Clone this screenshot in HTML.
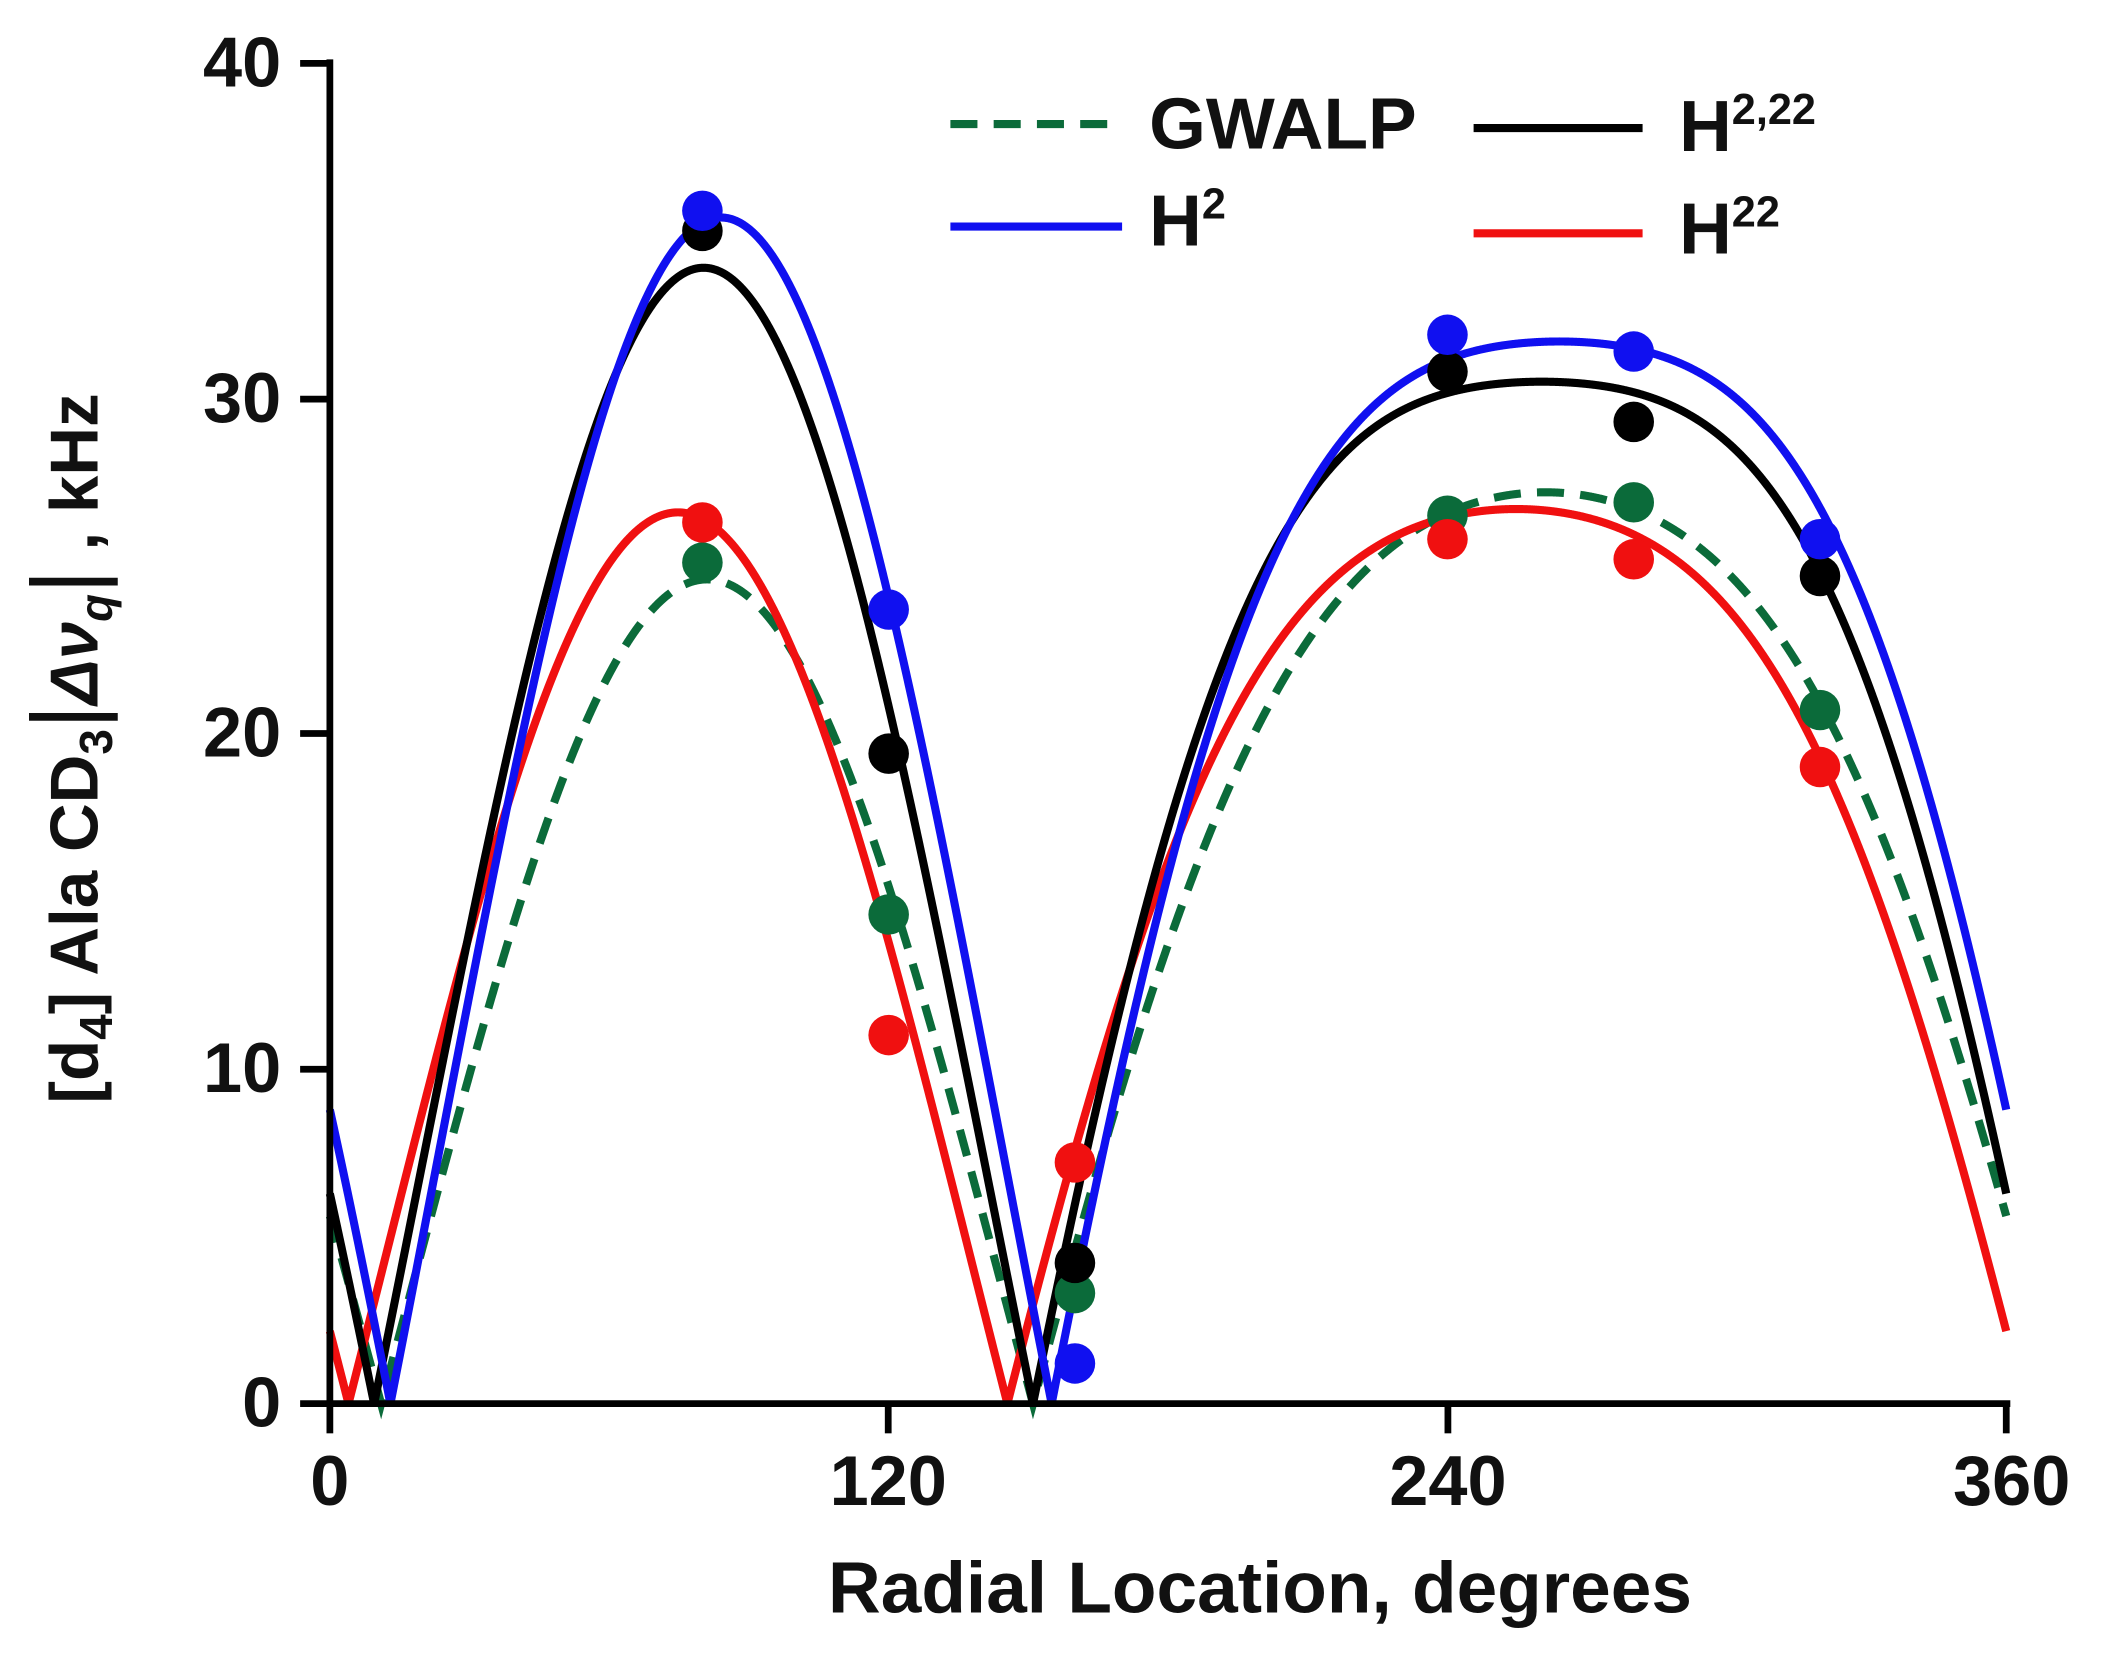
<!DOCTYPE html>
<html><head><meta charset="utf-8"><style>
html,body{margin:0;padding:0;background:#fff;}
svg{display:block;}
text{font-family:"Liberation Sans",sans-serif;font-weight:bold;fill:#111;}
</style></head><body>
<svg id="s" width="2109" height="1672" viewBox="0 0 1560 1240" preserveAspectRatio="none" xmlns="http://www.w3.org/2000/svg">
<g id="curves"></g>
<g stroke="#000" stroke-width="5" fill="none">
<line x1="244" y1="44" x2="244" y2="1043"/>
<line x1="242" y1="1041" x2="1487" y2="1041"/>
<line x1="222" y1="47" x2="244" y2="47"/>
<line x1="222" y1="296" x2="244" y2="296"/>
<line x1="222" y1="544" x2="244" y2="544"/>
<line x1="222" y1="793" x2="244" y2="793"/>
<line x1="222" y1="1041" x2="244" y2="1041"/>
<line x1="244" y1="1041" x2="244" y2="1063"/>
<line x1="657" y1="1041" x2="657" y2="1063"/>
<line x1="1071" y1="1041" x2="1071" y2="1063"/>
<line x1="1484" y1="1041" x2="1484" y2="1063"/>
</g>
<g font-size="52" text-anchor="end">
<text x="208" y="64">40</text>
<text x="208" y="313">30</text>
<text x="208" y="561">20</text>
<text x="208" y="810">10</text>
<text x="208" y="1058">0</text>
</g>
<g font-size="52" text-anchor="middle">
<text x="244" y="1116">0</text>
<text x="657" y="1116">120</text>
<text x="1071" y="1116">240</text>
<text x="1488" y="1116">360</text>
</g>
<text x="932" y="1196" font-size="54" text-anchor="middle">Radial Location, degrees</text>
<g transform="translate(72,555) rotate(-90)">
<text x="0" y="0" font-size="50" text-anchor="middle">[d<tspan font-size="34" dy="11">4</tspan><tspan dy="-11">] Ala CD</tspan><tspan font-size="34" dy="11">3</tspan><tspan dy="-11" font-size="70" font-weight="normal">|</tspan><tspan font-style="italic">Δν</tspan><tspan font-size="34" dy="11" font-style="italic">q</tspan><tspan dy="-11" font-size="70" font-weight="normal">|</tspan><tspan> , kHz</tspan></text>
</g>
<g stroke-width="6" fill="none">
<line x1="703" y1="92" x2="830" y2="92" stroke="#0b6b3a" stroke-dasharray="20,12"/>
<line x1="703" y1="168" x2="830" y2="168" stroke="#1010f0"/>
<line x1="1090" y1="95" x2="1215" y2="95" stroke="#000"/>
<line x1="1090" y1="173" x2="1215" y2="173" stroke="#f01010"/>
</g>
<text x="850" y="110" font-size="54">GWALP</text>
<text x="850" y="182" font-size="54">H<tspan font-size="32" dy="-20">2</tspan></text>
<text x="1242" y="112" font-size="54">H<tspan font-size="32" dy="-20">2,22</tspan></text>
<text x="1242" y="188" font-size="54">H<tspan font-size="32" dy="-20">22</tspan></text>
<g id="dots"></g>
</svg>
<script>
var NS="http://www.w3.org/2000/svg";
function X(d){return 244+d/360*1240;}
function Y(v){return 1041-v*994/40;}
var s=1/Math.sqrt(3);
function model(z1,z2,P1,P2){
 var m=(z1+z2)/2,d=(z2-z1)/2*Math.PI/180,k=Math.cos(d);
 function U(v){return (s-v*(1+k)/2)/((1-k)/2);}
 function r(v){var u=U(v);return (3*v*v-1)/(1-3*u*u);}
 var lo=s+1e-6,hi=1.5,t=P1/P2;
 for(var i=0;i<80;i++){var mid=(lo+hi)/2;var rr=r(mid);if(rr<t&&rr>0)lo=mid;else hi=mid;}
 var v=lo,u=U(v),A=(v+u)/2,B=(v-u)/2,K=2*P1/(3*v*v-1);
 return function(deg){var c=A+B*Math.cos((deg-m)*Math.PI/180);return Math.abs(K*(3*c*c-1)/2);};
}
var series=[
 {c:"#0b6b3a",p:[11,151,24.6,27.2],dash:"20,12",pts:[25.1,14.6,3.3,26.5,26.9,20.7]},
 {c:"#f01010",p:[4,145.5,26.6,26.7],pts:[26.3,11,7.2,25.8,25.2,19]},
 {c:"#000000",p:[9.5,151,33.9,30.5],pts:[35,19.4,4.2,30.8,29.3,24.7]},
 {c:"#1010f0",p:[13,155,35.4,31.7],pts:[35.6,23.7,1.2,31.9,31.4,25.8]}
];
var xs=[80,120,160,240,280,320];
var cg=document.getElementById("curves"),dg=document.getElementById("dots");
series.forEach(function(sr){
 var f=model.apply(null,sr.p),d="";
 for(var g=0;g<=3600;g++){var deg=g/10;d+=(g?"L":"M")+X(deg).toFixed(2)+" "+Y(f(deg)).toFixed(2);}
 var p=document.createElementNS(NS,"path");p.setAttribute("d",d);p.setAttribute("fill","none");
 p.setAttribute("stroke",sr.c);p.setAttribute("stroke-width","6");
 if(sr.dash)p.setAttribute("stroke-dasharray",sr.dash);
 cg.appendChild(p);
});
[0,2,1,3].forEach(function(i){var sr=series[i];
 sr.pts.forEach(function(v,j){var c=document.createElementNS(NS,"circle");
 c.setAttribute("cx",X(xs[j]));c.setAttribute("cy",Y(v));c.setAttribute("r","15");c.setAttribute("fill",sr.c);dg.appendChild(c);});
});
</script>
</body></html>
